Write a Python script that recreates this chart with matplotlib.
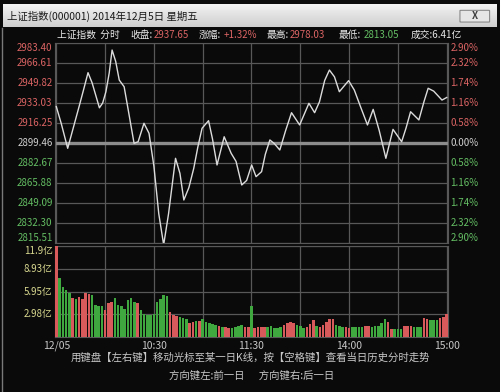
import numpy as np
import matplotlib.pyplot as plt
import matplotlib.transforms as mtransforms
from matplotlib.patches import FancyBboxPatch
from matplotlib.lines import Line2D

plt.rcParams['font.family'] = ['Noto Sans CJK SC', 'DejaVu Sans']

# === DATA ===
# intraday index line, minutes after 9:30 (lunch break removed)
minutes = [0, 3, 7, 10, 14, 17, 19.5, 22, 26.5, 28.5, 30.5, 32.5, 34.3, 36.5, 38.7,
           41.7, 44.5, 47.8, 50.3, 53.9, 57, 60, 63, 66, 69, 73.3, 76, 78.4, 81.5,
           84.5, 87, 89.6, 93.6, 96, 98.8, 103.2, 107.5, 110.5, 114, 117, 120.1,
           122.8, 126.2, 128.5, 131.3, 134, 137.4, 141, 144.6, 149.6, 155.3, 158.8,
           161.8, 165, 167.9, 171, 174, 179.7, 183.2, 187, 191.3, 194.8, 198.5,
           202.6, 207, 212.3, 215, 217.8, 222.9, 226, 228.6, 232, 237.1, 240]
prices = [2930.0, 2916.0, 2895.0, 2910.0, 2930.0, 2945.4, 2958.5, 2950.0, 2929.0, 2933.0,
          2942.5, 2958.0, 2977.5, 2968.0, 2952.3, 2946.7, 2925.0, 2899.2, 2900.5, 2916.0,
          2907.6, 2880.0, 2840.0, 2814.0, 2840.0, 2886.6, 2874.0, 2851.6, 2862.0, 2878.2,
          2896.0, 2911.8, 2918.2, 2903.0, 2881.0, 2904.7, 2890.8, 2884.0, 2864.2, 2868.0,
          2881.0, 2871.2, 2875.4, 2890.0, 2902.0, 2899.0, 2893.6, 2910.0, 2924.9, 2914.6,
          2932.8, 2924.9, 2934.1, 2952.0, 2960.7, 2955.0, 2942.5, 2951.8, 2943.9, 2930.0,
          2914.6, 2927.7, 2910.0, 2886.6, 2910.9, 2900.5, 2912.0, 2925.7, 2918.8, 2934.0,
          2945.4, 2943.0, 2935.5, 2937.65]

# volume, one bar every two minutes, in 亿
vol_minutes = list(range(0, 241, 2))
volumes = [11.9, 7.7, 6.6, 6.1, 5.7, 5.1, 5.0, 5.2, 5.0, 5.7, 5.6, 5.5, 4.2, 4.1, 4.0,
           3.5, 4.4, 4.6, 5.1, 4.2, 4.0, 3.6, 4.8, 5.1, 4.6, 4.4, 3.5, 3.0, 2.9, 2.9,
           3.0, 4.6, 5.0, 5.5, 5.4, 3.3, 2.9, 2.7, 2.6, 2.5, 2.4, 1.8, 2.0, 2.1, 2.1,
           2.4, 1.9, 1.8, 1.75, 1.6, 1.5, 1.35, 1.3, 1.2, 1.2, 1.3, 1.5, 1.6, 1.3, 1.3,
           4.0, 1.2, 1.3, 1.3, 1.3, 1.35, 1.4, 1.2, 1.2, 1.3, 1.6, 1.8, 2.0, 1.8, 1.6,
           1.5, 1.2, 1.3, 1.75, 2.2, 1.5, 1.3, 1.6, 2.0, 2.4, 2.4, 1.6, 1.4, 1.3, 1.3,
           1.2, 1.3, 1.3, 1.3, 1.3, 1.4, 1.5, 1.3, 1.4, 1.45, 1.8, 2.3, 2.0, 1.0, 1.1,
           1.1, 1.1, 1.45, 1.45, 1.4, 1.3, 1.3, 1.3, 2.5, 2.4, 2.2, 2.2, 2.2, 2.5, 2.6,
           3.0]
vol_dir = list("rggggrgrrrrgggg" "rrrgggggggrgggg" "gggggrrrgggrrgr" "gggggrgrrggggrr"
               "grrrrgggggrrrrg" "ggrrrgrrrrrgggr" "rggggrrgggggrrg" "ggrrrgggrrggg" "rrr")

price_ticks = [2815.51, 2832.30, 2849.09, 2865.88, 2882.67, 2899.46,
               2916.25, 2933.03, 2949.82, 2966.61, 2983.40]
pct_labels = ['2.90%', '2.32%', '1.74%', '1.16%', '0.58%', '0.00%',
              '0.58%', '1.16%', '1.74%', '2.32%', '2.90%']
vol_ticks = [2.98, 5.95, 8.93, 11.9]
vol_labels = ['2.98亿', '5.95亿', '8.93亿', '11.9亿']
time_ticks = [0, 60, 120, 180, 240]
time_labels = ['12/05', '10:30', '11:30', '14:00', '15:00']

title = '上证指数(000001) 2014年12月5日 星期五'
footer1 = '用键盘【左右键】移动光标至某一日K线，按【空格键】查看当日历史分时走势'
footer2 = '方向键左:前一日      方向键右:后一日'

RED = '#dc6464'
GREEN = '#64be64'
GRID = '#585858'
BG = '#0a0a0a'

fig = plt.figure(figsize=(5, 3.92), dpi=100, facecolor=BG)

# window title bar
tb = fig.add_axes([0.006, 1 - 27 / 392, 0.988, 23 / 392])
grad = np.linspace(0, 1, 50).reshape(-1, 1)
tb.imshow(grad, aspect='auto', cmap=plt.matplotlib.colors.LinearSegmentedColormap.from_list(
    'tb', ['#f2f2f2', '#cfcfcf']), extent=[0, 1, 0, 1])
tb.set_xlim(0, 1)
tb.set_ylim(0, 1)
tb.axis('off')
tb.text(0.008, 0.45, title, fontsize=7.5, color='#1a1a1a', va='center', ha='left')
tb.add_patch(FancyBboxPatch((0.93, 0.22), 0.05, 0.5, boxstyle='round,pad=0.005',
                            fc='#e6e6e6', ec='#8a8a8a', lw=0.8))
tb.text(0.955, 0.47, 'X', fontsize=7, color='#404040', ha='center', va='center',
        fontweight='bold')

# window left border
fig.add_artist(Line2D([0.004, 0.004], [0, 1 - 28 / 392], color='#7a7a7a', lw=1))

# price panel
ax = fig.add_axes([55 / 500, 1 - 243 / 392, 393 / 500, 200 / 392], facecolor=BG)
ax.plot(minutes, prices, color='#dcdcdc', lw=1.0, zorder=3)
ax.set_xlim(-0.8, 240.8)
ax.set_ylim(price_ticks[0], price_ticks[-1])
ax.set_xticks(range(0, 241, 30))
ax.set_yticks(price_ticks)
ax.grid(True, color=GRID, lw=0.9)
ax.axhline(price_ticks[5], color='#8c8c8c', lw=2.4, zorder=2)
ax.tick_params(length=0, labelleft=False, labelbottom=False)
for s in ax.spines.values():
    s.set_color(GRID)

trans = mtransforms.blended_transform_factory(ax.transAxes, ax.transData)
for i, (v, p) in enumerate(zip(price_ticks, pct_labels)):
    col = GREEN if i < 5 else (RED if i > 5 else '#d0d0d0')
    va = 'bottom' if i == 0 else ('top' if i == len(price_ticks) - 1 else 'center')
    ax.text(-0.006, v, f'{v:.2f}', transform=trans, ha='right', va=va,
            fontsize=7, color=col)
    ax.text(1.006, v, p, transform=trans, ha='left', va=va, fontsize=7, color=col)

# header quote line
hy = 1 - 35 / 392
def put(x, s, c):
    fig.text(x / 500, hy, s, fontsize=7, color=c, va='center', ha='left')
put(57, '上证指数  分时', '#e8e8e8')
put(130, '收盘:', '#e8e8e8')
put(154, '2937.65', RED)
put(199, '涨幅:', '#e8e8e8')
put(224, '+1.32%', RED)
put(267, '最高:', '#e8e8e8')
put(290, '2978.03', RED)
put(339, '最低:', '#e8e8e8')
put(364, '2813.05', GREEN)
put(411, '成交:6.41亿', '#e8e8e8')

# volume panel
vx = fig.add_axes([55 / 500, 1 - 337 / 392, 393 / 500, 91 / 392], facecolor=BG)
colors = ['#d85a5a' if d == 'r' else '#3fa83f' for d in vol_dir]
vx.bar(vol_minutes, volumes, width=1.6, color=colors, zorder=3)
vx.set_xlim(-0.8, 240.8)
vx.set_ylim(0, 11.9)
vx.set_xticks(range(0, 241, 30))
vx.set_yticks(vol_ticks)
vx.grid(True, color=GRID, lw=0.9)
vx.tick_params(length=0, labelleft=False, labelbottom=False)
for s in vx.spines.values():
    s.set_color(GRID)
vtrans = mtransforms.blended_transform_factory(vx.transAxes, vx.transData)
for v, lab in zip(vol_ticks, vol_labels):
    va = 'top' if v == vol_ticks[-1] else 'center'
    vx.text(-0.006, v, lab, transform=vtrans, ha='right', va=va, fontsize=7,
            color='#d8d890')

ttrans = mtransforms.blended_transform_factory(vx.transData, fig.transFigure)
for t, lab in zip(time_ticks, time_labels):
    vx.text(t, 1 - 346 / 392, lab, transform=ttrans, ha='center', va='center',
            fontsize=7.5, color='#c8c8c8')

fig.text(0.5, 1 - 358 / 392, footer1, fontsize=7.5, color='#c8c8c8', ha='center',
         va='center')
fig.text(252 / 500, 1 - 376 / 392, footer2, fontsize=7.5, color='#c8c8c8',
         ha='center', va='center')

fig.savefig('out.png', dpi=100, facecolor=BG)
